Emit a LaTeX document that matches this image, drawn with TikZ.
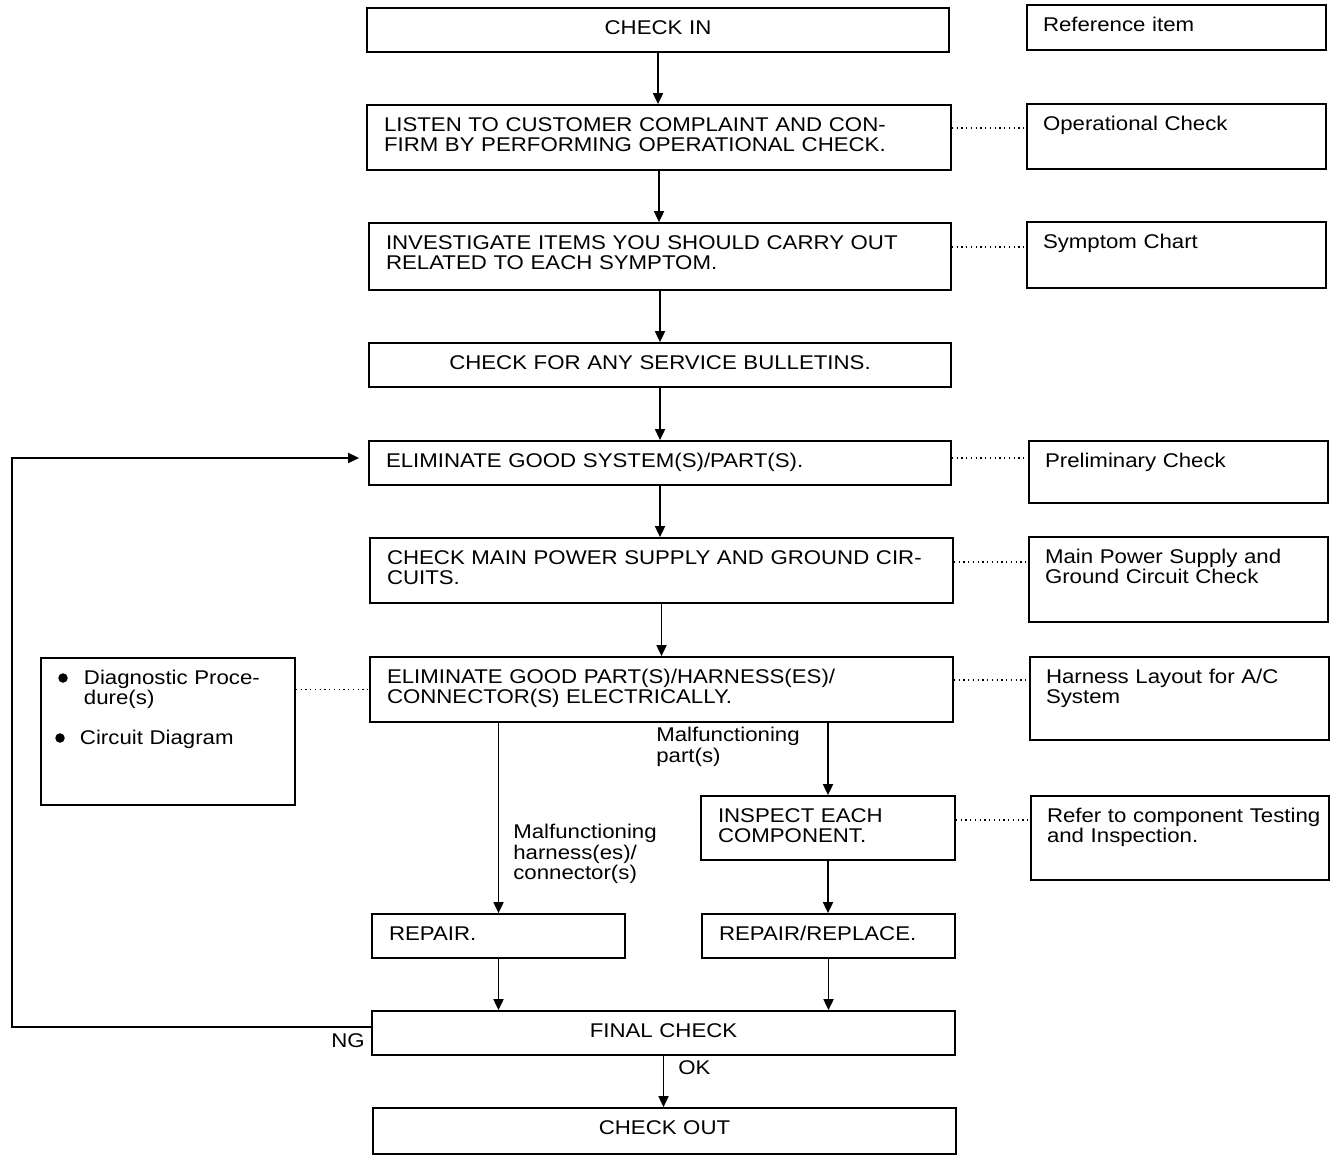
\documentclass[tikz,border=0pt]{standalone}
\usepackage{fontspec}
\setmainfont{Liberation Sans}[FakeStretch=1.12]
\usepackage{tikz}
\usetikzlibrary{arrows.meta,positioning,calc}

\begin{document}
\begin{tikzpicture}[
  x=0.02cm, y=-0.02cm,
  font=\fontsize{11.3}{11.7}\selectfont,
  stepbox/.style 2 args={draw, line width=1pt, inner xsep=0.34cm, inner ysep=0pt,
    text width=(#1-34)*0.02cm, text height=0.52cm, text depth=(#2-26)*0.02cm, align=left},
  refbox/.style 2 args={draw, line width=1pt, inner xsep=0.32cm, inner ysep=0pt,
    text width=(#1-32)*0.02cm, text height=0.52cm, text depth=(#2-26)*0.02cm, align=left},
  mid/.style={align=center},
  lbl/.style={inner sep=0pt, align=left},
  dot/.style={circle, fill, inner sep=0pt, minimum size=0.19cm},
  flow/.style={-{Triangle[length=0.22cm,width=0.2cm]}, line width=1pt},
  refline/.style={dotted, line width=0.7pt}
]
\useasboundingbox (0,0) rectangle (1344,1160);

% main column
\node[stepbox={582}{44}, mid] (checkin) at (658,30) {CHECK IN};
\node[stepbox={584}{65}] (listen) at (659,137.5) {LISTEN TO CUSTOMER COMPLAINT AND CON-\\FIRM BY PERFORMING OPERATIONAL CHECK.};
\node[stepbox={582}{67}] (investigate) at (660,256.5) {INVESTIGATE ITEMS YOU SHOULD CARRY OUT\\RELATED TO EACH SYMPTOM.};
\node[stepbox={582}{44}, mid] (bulletins) at (660,365) {CHECK FOR ANY SERVICE BULLETINS.};
\node[stepbox={582}{44}] (elimgood) at (660,463) {ELIMINATE GOOD SYSTEM(S)/PART(S).};
\node[stepbox={583}{65}] (mainpower) at (661.5,570.5) {\mbox{CHECK MAIN POWER SUPPLY AND GROUND CIR-}\\CUITS.};
\node[stepbox={583}{65}] (elimparts) at (661.5,689.5) {ELIMINATE GOOD PART(S)/HARNESS(ES)/\\CONNECTOR(S) ELECTRICALLY.};
\node[stepbox={254}{64}] (inspect) at (828,828) {INSPECT EACH\\COMPONENT.};
\node[stepbox={253}{44}] (repair) at (498.5,936) {REPAIR.};
\node[stepbox={253}{44}] (replace) at (828.5,936) {REPAIR/REPLACE.};
\node[stepbox={583}{44}, mid] (final) at (663.5,1033) {FINAL CHECK};
\node[stepbox={583}{46}, mid] (checkout) at (664.5,1131) {CHECK OUT};

% reference items
\node[refbox={299}{45}] (refitem) at (1176.5,27.5) {Reference item};
\node[refbox={299}{65}] (opcheck) at (1176.5,136.5) {Operational Check};
\node[refbox={299}{66}] (symptom) at (1176.5,255) {Symptom Chart};
\node[refbox={299}{62}] (prelim) at (1178.5,472) {Preliminary Check};
\node[refbox={299}{85}] (pwrcheck) at (1178.5,579.5) {Main Power Supply and\\Ground Circuit Check};
\node[refbox={299}{83}] (layout) at (1179.5,698.5) {Harness Layout for A/C\\System};
\node[refbox={298}{84}] (testing) at (1180,838) {\mbox{Refer to component Testing}\\and Inspection.};

% left reference box
\node[stepbox={254}{147}] (diag) at (168,731.5) {\hspace*{0.52cm}Diagnostic Proce-\\\hspace*{0.52cm}dure(s)\\[0.39cm]\hspace*{0.44cm}Circuit Diagram};
\node[dot] (dot1) at (63,678) {};
\node[dot] (dot2) at (60,738) {};

% branch labels
\node[lbl, anchor=north west] (partlbl) at (656,727) {Malfunctioning\\part(s)};
\node[lbl, anchor=north west] (harnlbl) at (513,824) {Malfunctioning\\harness(es)/\\connector(s)};
\node[lbl, anchor=north east] (nglbl) at (365,1033) {NG};
\node[lbl, anchor=north west] (oklbl) at (678,1060) {OK};
\coordinate (loopx) at (12,0);

\draw[flow] (checkin.south) -- (checkin.south |- listen.north);
\draw[flow] (listen.south) -- (listen.south |- investigate.north);
\draw[flow] (investigate.south) -- (investigate.south |- bulletins.north);
\draw[flow] (bulletins.south) -- (bulletins.south |- elimgood.north);
\draw[flow] (elimgood.south) -- (elimgood.south |- mainpower.north);
\draw[flow] (mainpower.south) -- (mainpower.south |- elimparts.north);
\draw[flow] (elimparts.south -| repair.north) -- (repair.north);
\draw[flow] (elimparts.south -| inspect.north) -- (inspect.north);
\draw[flow] (inspect.south) -- (inspect.south |- replace.north);
\draw[flow] (repair.south) -- (repair.south |- final.north);
\draw[flow] (replace.south) -- (replace.south |- final.north);
\draw[flow] (final.south) -- (final.south |- checkout.north);
\draw[flow, shorten >=0.18cm] ([yshift=0.12cm]final.west) -- ([yshift=0.12cm]final.west -| loopx)
  |- ([yshift=0.1cm]elimgood.west);

\draw[refline] ([yshift=0.19cm]listen.east) -- ([yshift=0.19cm]listen.east -| opcheck.west);
\draw[refline] ([yshift=0.19cm]investigate.east) -- ([yshift=0.19cm]investigate.east -| symptom.west);
\draw[refline] ([yshift=0.1cm]elimgood.east) -- ([yshift=0.1cm]elimgood.east -| prelim.west);
\draw[refline] ([yshift=0.17cm]mainpower.east) -- ([yshift=0.17cm]mainpower.east -| pwrcheck.west);
\draw[refline] ([yshift=0.19cm]elimparts.east) -- ([yshift=0.19cm]elimparts.east -| layout.west);
\draw[refline] ([yshift=0.16cm]inspect.east) -- ([yshift=0.16cm]inspect.east -| testing.west);
\draw[refline] (elimparts.west -| diag.east) -- (elimparts.west);
\end{tikzpicture}
\end{document}
